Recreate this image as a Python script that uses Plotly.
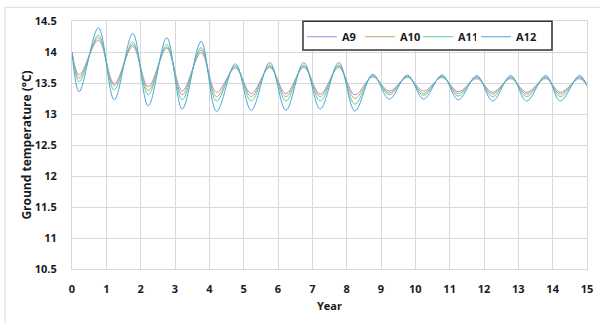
import plotly.graph_objects as go

# Times of the read points (start, alternating troughs/peaks, end) in years
t = [0, 0.21, 0.77, 1.23, 1.77, 2.22, 2.76, 3.21, 3.76, 4.21, 4.76, 5.22, 5.76, 6.23, 6.75,
     7.23, 7.77, 8.24, 8.76, 9.24, 9.77, 10.24, 10.78, 11.25, 11.79, 12.25, 12.78, 13.24,
     13.8, 14.22, 14.78, 15]

a9 = [14.0, 13.63, 14.19, 13.49, 14.09, 13.44, 14.06, 13.37, 13.99, 13.35, 13.74, 13.33, 13.75,
      13.33, 13.75, 13.32, 13.75, 13.31, 13.60, 13.37, 13.59, 13.37, 13.59, 13.36, 13.57, 13.35,
      13.57, 13.35, 13.57, 13.35, 13.57, 13.46]
a10 = [14.0, 13.58, 14.23, 13.46, 14.12, 13.38, 14.08, 13.31, 14.03, 13.28, 13.76, 13.28, 13.77,
       13.28, 13.77, 13.28, 13.77, 13.25, 13.61, 13.34, 13.60, 13.33, 13.60, 13.33, 13.59, 13.32,
       13.59, 13.32, 13.59, 13.32, 13.59, 13.46]
a11 = [14.0, 13.52, 14.27, 13.39, 14.16, 13.31, 14.12, 13.23, 14.07, 13.21, 13.78, 13.21, 13.79,
       13.21, 13.79, 13.21, 13.79, 13.16, 13.62, 13.31, 13.61, 13.30, 13.61, 13.29, 13.60, 13.28,
       13.60, 13.28, 13.60, 13.28, 13.60, 13.46]
a12 = [14.0, 13.36, 14.39, 13.23, 14.30, 13.13, 14.23, 13.08, 14.17, 13.04, 13.81, 13.06, 13.83,
       13.06, 13.83, 13.08, 13.83, 13.05, 13.64, 13.24, 13.63, 13.24, 13.63, 13.23, 13.62, 13.21,
       13.62, 13.21, 13.62, 13.21, 13.62, 13.46]

names = ["A9", "A10", "A11", "A12"]
series = [a9, a10, a11, a12]
colors = ["#ad88dc", "#c8a46c", "#55d197", "#4ea4e2"]
legend_ids = ["legend", "legend", "legend", "legend2"]

fig = go.Figure()
for n, s, c, lg in zip(names, series, colors, legend_ids):
    fig.add_trace(go.Scatter(x=t, y=s, name=n, mode="lines", legend=lg,
                             line=dict(color=c, width=1, shape="spline", smoothing=1.0)))

font_bold = dict(family="Open Sans", size=11, color="#1a1a1a", weight="bold")
title_font = dict(family="Open Sans", size=12, color="#1a1a1a", weight="bold")

fig.update_layout(
    width=600, height=323,
    margin=dict(l=72, r=13, t=21, b=54, autoexpand=False),
    paper_bgcolor="white", plot_bgcolor="white",
    font=font_bold,
    showlegend=True,
    legend=dict(orientation="h", x=0.4466, y=0.995, xanchor="left", yanchor="top",
                bgcolor="rgba(0,0,0,0)", borderwidth=0, font=font_bold,
                entrywidth=13, itemwidth=30, tracegroupgap=0),
    legend2=dict(orientation="h", x=0.7845, y=0.995, xanchor="left", yanchor="top",
                 bgcolor="rgba(0,0,0,0)", borderwidth=0, font=font_bold,
                 itemwidth=30, tracegroupgap=0),
    xaxis=dict(range=[0, 15], dtick=1, tick0=0, showgrid=True, gridcolor="#d9d9d9", gridwidth=1,
               zeroline=False, showline=True, linecolor="#d9d9d9", mirror=True,
               ticks="", ticklabelstandoff=10, tickfont=font_bold,
               title=dict(text="Year", font=font_bold, standoff=7)),
    yaxis=dict(range=[10.5, 14.5], dtick=0.5, tick0=10.5, showgrid=True, gridcolor="#d9d9d9",
               gridwidth=1, zeroline=False, showline=True, linecolor="#d9d9d9", mirror=True,
               ticks="", ticklabelstandoff=12, tickfont=font_bold,
               title=dict(text="Ground temperature (°C)", font=title_font, standoff=0)),
    shapes=[
        dict(type="rect", xref="paper", yref="paper", x0=-0.130, x1=1.2, y0=-0.4, y1=1.0552,
             line=dict(color="#d9d9d9", width=1), fillcolor="rgba(0,0,0,0)", layer="below"),
        dict(type="rect", xref="paper", yref="paper", x0=0.4485, x1=0.932, y0=0.883, y1=0.999,
             line=dict(color="#333333", width=1.5), fillcolor="white", layer="above"),
    ],
)

fig.write_html("out.html")
